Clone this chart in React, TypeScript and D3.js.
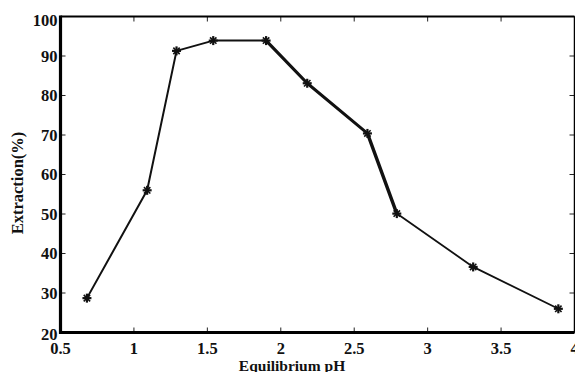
import React from "react";
import * as d3 from "d3";

// Extraction efficiency versus equilibrium pH
const phValues = [0.68, 1.09, 1.29, 1.54, 1.9, 2.18, 2.59, 2.79, 3.31, 3.89];
const extraction = [28.7, 56.0, 91.3, 93.9, 93.9, 83.1, 70.4, 50.1, 36.6, 26.0];

const xTicks = [0.5, 1, 1.5, 2, 2.5, 3, 3.5, 4];
const xTickLabels = ["0.5", "1", "1.5", "2", "2.5", "3", "3.5", "4"];
const yTicks = [20, 30, 40, 50, 60, 70, 80, 90, 100];
const yTickLabels = ["20", "30", "40", "50", "60", "70", "80", "90", "100"];

const xTitle = "Equilibrium pH";
const yTitle = "Extraction(%)";

const W = 575;
const H = 372;
const plot = { left: 60.5, right: 574.5, top: 16.5, bottom: 332.5 };
const FONT = "'Liberation Serif', 'Times New Roman', serif";

// stroke weight of each connecting segment
const segWidth = [2, 2, 2, 2, 3.2, 3, 3.4, 1.8, 1.8];

function Marker({ cx, cy }: { cx: number; cy: number }) {
  const r = 4.5;
  const d = 3.2;
  return (
    <g stroke="#111" strokeWidth={2.2}>
      <line x1={cx - r} y1={cy} x2={cx + r} y2={cy} />
      <line x1={cx} y1={cy - r} x2={cx} y2={cy + r} />
      <line x1={cx - d} y1={cy - d} x2={cx + d} y2={cy + d} strokeWidth={1.6} />
      <line x1={cx - d} y1={cy + d} x2={cx + d} y2={cy - d} strokeWidth={1.6} />
    </g>
  );
}

export default function App() {
  const x = d3.scaleLinear().domain([0.5, 4]).range([plot.left, plot.right]);
  const y = d3.scaleLinear().domain([20, 100]).range([plot.bottom, plot.top]);

  const pts = phValues.map((p, i) => [x(p), y(extraction[i])] as [number, number]);
  const lineGen = d3.line<[number, number]>();

  const tickLen = 5;
  const yLabelShift = (v: number) => (v === 100 ? 4 : v === 20 ? 1.5 : 0);

  return (
    <svg
      width={W}
      height={H}
      viewBox={`0 0 ${W} ${H}`}
      style={{ position: "absolute", left: 0, top: 0, background: "#fff" }}
    >
      <rect x={0} y={0} width={W} height={H} fill="#fff" />

      {/* tick marks on all four sides, pointing inward */}
      <g stroke="#222" strokeWidth={1}>
        {xTicks.map((t) => (
          <g key={`xt${t}`}>
            <line x1={x(t)} x2={x(t)} y1={plot.bottom} y2={plot.bottom - tickLen} />
            <line x1={x(t)} x2={x(t)} y1={plot.top} y2={plot.top + tickLen} />
          </g>
        ))}
        {yTicks.map((t) => (
          <g key={`yt${t}`}>
            <line x1={plot.left} x2={plot.left + tickLen} y1={y(t)} y2={y(t)} />
            <line x1={plot.right} x2={plot.right - tickLen} y1={y(t)} y2={y(t)} />
          </g>
        ))}
      </g>

      {/* frame */}
      <line x1={plot.left} x2={plot.right} y1={plot.top} y2={plot.top} stroke="#000" strokeWidth={2.2} />
      <line x1={plot.right} x2={plot.right} y1={plot.top} y2={plot.bottom} stroke="#000" strokeWidth={1.5} />
      <line x1={plot.left} x2={plot.right} y1={plot.bottom} y2={plot.bottom} stroke="#000" strokeWidth={3.2} />
      <line x1={plot.left} x2={plot.left} y1={plot.top - 1} y2={plot.bottom + 1.5} stroke="#000" strokeWidth={3.2} />

      {/* data line */}
      <g stroke="#111" fill="none" strokeLinejoin="round" strokeLinecap="round">
        {pts.slice(1).map((p, i) => (
          <path key={`s${i}`} d={lineGen([pts[i], p]) || ""} strokeWidth={segWidth[i]} />
        ))}
      </g>
      {pts.map(([cx, cy], i) => (
        <Marker key={`m${i}`} cx={cx} cy={cy} />
      ))}

      {/* tick labels */}
      <g fontFamily={FONT} fontWeight="bold" fontSize={16.5} fill="#111">
        {xTicks.map((t, i) => (
          <text key={`xl${t}`} x={x(t)} y={354} textAnchor="middle">
            {xTickLabels[i]}
          </text>
        ))}
        {yTicks.map((t, i) => (
          <text
            key={`yl${t}`}
            x={57.5}
            y={y(t) + yLabelShift(t)}
            textAnchor="end"
            dominantBaseline="central"
          >
            {yTickLabels[i]}
          </text>
        ))}
      </g>

      {/* axis titles */}
      <text
        x={292}
        y={371}
        textAnchor="middle"
        fontFamily={FONT}
        fontWeight="bold"
        fontSize={15.5}
        fill="#111"
      >
        {xTitle}
      </text>
      <text
        transform={`translate(23, 183) rotate(-90)`}
        textAnchor="middle"
        fontFamily={FONT}
        fontWeight="bold"
        fontSize={16.5}
        fill="#111"
      >
        {yTitle}
      </text>
    </svg>
  );
}
